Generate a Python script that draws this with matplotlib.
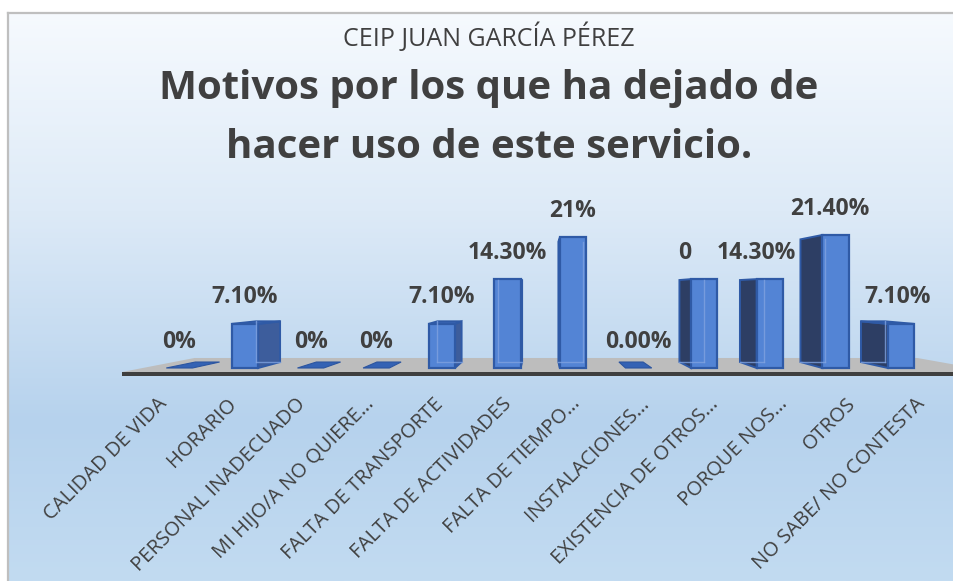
import matplotlib
matplotlib.use('Agg')
import matplotlib.pyplot as plt
from matplotlib.patches import Polygon, Rectangle
import numpy as np

plt.rcParams['font.family'] = ['Open Sans', 'DejaVu Sans']

categorias = ['CALIDAD DE VIDA', 'HORARIO', 'PERSONAL INADECUADO',
              'MI HIJO/A NO QUIERE…', 'FALTA DE TRANSPORTE',
              'FALTA DE ACTIVIDADES', 'FALTA DE TIEMPO…', 'INSTALACIONES…',
              'EXISTENCIA DE OTROS…', 'PORQUE NOS…', 'OTROS',
              'NO SABE/ NO CONTESTA']
valores = [0, 7.1, 0, 0, 7.1, 14.3, 21.0, 0, 14.3, 14.3, 21.4, 7.1]
etiquetas = ['0%', '7.10%', '0%', '0%', '7.10%', '14.30%', '21%', '0.00%',
             '0', '14.30%', '21.40%', '7.10%']

subtitulo = 'CEIP JUAN GARCÍA PÉREZ'
titulo = ['Motivos por los que ha dejado de', 'hacer uso de este servicio.']

# desplazamiento horizontal de algunas etiquetas (en anchos de categoria)
desplaz_etiq = [0, 0, 0, 0, 0, 0, 0, 0, -0.29, -0.2, -0.08, -0.05]

W, H = 954, 581
X0_PX, PASO_PX = 179.4, 65.6      # centro de la primera barra, separacion
BASE_PX, PX_PCT = 368, 6.215      # base de las barras, pixeles por 1 %
TEXTO = '#404040'

fig = plt.figure(figsize=(W / 100, H / 100), dpi=100)

# fondo degradado con marco
bg = fig.add_axes([0, 0, 1, 1])
bg.set_xlim(0, W)
bg.set_ylim(H, 0)
bg.axis('off')
stops = [0.0, 0.35, 0.72, 1.0]
cols = np.array([[246, 250, 254], [221, 234, 247], [182, 210, 237],
                 [194, 219, 241]]) / 255.0
t = np.linspace(0, 1, 300)
grad = np.stack([np.interp(t, stops, cols[:, k]) for k in range(3)], axis=1)
bg.imshow(grad[:, None, :], extent=(8, W, H, 12), aspect='auto',
          interpolation='bilinear', zorder=0)
bg.plot([8.5, W], [12.5, 12.5], color='#bfbfbf', lw=1.6, zorder=1)
bg.plot([8.5, 8.5], [12.5, H], color='#bfbfbf', lw=1.6, zorder=1)

# ejes del grafico: x = indice de categoria, y = porcentaje
ax = fig.add_axes([0, 0, 1, 1])
ax.set_xlim(-X0_PX / PASO_PX, (W - X0_PX) / PASO_PX)
ax.set_ylim((BASE_PX - H) / PX_PCT, BASE_PX / PX_PCT)
ax.axis('off')
ax.patch.set_alpha(0)

VX = (541 - X0_PX) / PASO_PX      # punto de fuga
VY = (BASE_PX - 291) / PX_PCT
F_BARRA = 1 - 0.0776
F_SUELO = 1 - 0.173
ANCHO = 0.2


def proy(x, y, f):
    return (VX + f * (x - VX), VY + f * (y - VY))


# suelo
yf = (BASE_PX - 372) / PX_PCT
xl, xr = (122 - X0_PX) / PASO_PX, (996 - X0_PX) / PASO_PX
ax.add_patch(Polygon([(xl, yf), (xr, yf), proy(xr, yf, F_SUELO),
                      proy(xl, yf, F_SUELO)], closed=True,
                     facecolor='#bdbdbd', edgecolor='none', zorder=2))
ax.add_patch(Rectangle((xl, yf - 4 / PX_PCT), xr - xl, 4 / PX_PCT,
                       facecolor='#3f3f3f', edgecolor='none', zorder=2))

borde = '#2f5aa6'
for i, v in enumerate(valores):
    izq, der = i - ANCHO, i + ANCHO
    z = 3
    if v == 0:
        ax.add_patch(Polygon([(izq, 0), (der, 0), proy(der, 0, F_BARRA),
                              proy(izq, 0, F_BARRA)], closed=True,
                             facecolor='#3462b4', edgecolor='#2c55a0',
                             lw=0.8, zorder=z))
    else:
        # cara lateral
        if der < VX:
            lado = [(der, 0), (der, v), proy(der, v, F_BARRA),
                    proy(der, 0, F_BARRA)]
            ax.add_patch(Polygon(lado, closed=True, facecolor='#3d5d9c',
                                 edgecolor=borde, lw=1.4, zorder=z))
        elif izq > VX:
            lado = [(izq, 0), (izq, v), proy(izq, v, F_BARRA),
                    proy(izq, 0, F_BARRA)]
            ax.add_patch(Polygon(lado, closed=True, facecolor='#2d3e64',
                                 edgecolor=borde, lw=1.4, zorder=z))
        # cara superior
        if v < VY:
            tapa = [(izq, v), (der, v), proy(der, v, F_BARRA),
                    proy(izq, v, F_BARRA)]
            ax.add_patch(Polygon(tapa, closed=True, facecolor='#3c67b8',
                                 edgecolor=borde, lw=1.4, zorder=z))
        # cara frontal
        ax.add_patch(Rectangle((izq, 0), 2 * ANCHO, v, facecolor='#5384d5',
                               edgecolor=borde, lw=1.6, zorder=z + 0.1))
        # aristas traseras vistas a traves de la barra
        xlado = izq if der < VX else der
        p0 = proy(xlado, 0, F_BARRA)
        p1 = proy(xlado, v, F_BARRA)
        ax.plot([p0[0], p1[0]], [p0[1], p1[1]], color='#7fa2e0', lw=1.0,
                alpha=0.8, zorder=z + 0.2)
        q0 = proy(izq, 0, F_BARRA)
        q1 = proy(der, 0, F_BARRA)
        ax.plot([q0[0], q1[0]], [q0[1], q1[1]], color='#7fa2e0', lw=1.0,
                alpha=0.8, zorder=z + 0.2)

    ax.annotate(etiquetas[i], (i + desplaz_etiq[i], v), xytext=(0, 19),
                textcoords='offset points', ha='center', va='center',
                fontsize=16.5, fontweight='bold', color=TEXTO, zorder=6,
                annotation_clip=False)

# etiquetas de categoria (linea delantera del suelo, mas separadas)
y_cat = (BASE_PX - 394) / PX_PCT
for i, nombre in enumerate(categorias):
    xc = VX + 1.05 * (i - VX) - 0.06
    ax.text(xc, y_cat, nombre, rotation=45, rotation_mode='anchor',
            ha='right', va='top', fontsize=14.5, color=TEXTO, zorder=6)

# titulos
fig.text(489 / W, 1 - 46 / H, subtitulo, ha='center', va='baseline',
         fontsize=18, color=TEXTO)
fig.text(489 / W, 1 - 99 / H, titulo[0], ha='center', va='baseline',
         fontsize=29, fontweight='bold', color=TEXTO)
fig.text(489 / W, 1 - 158 / H, titulo[1], ha='center', va='baseline',
         fontsize=29, fontweight='bold', color=TEXTO)

fig.savefig('out.png', dpi=100)
